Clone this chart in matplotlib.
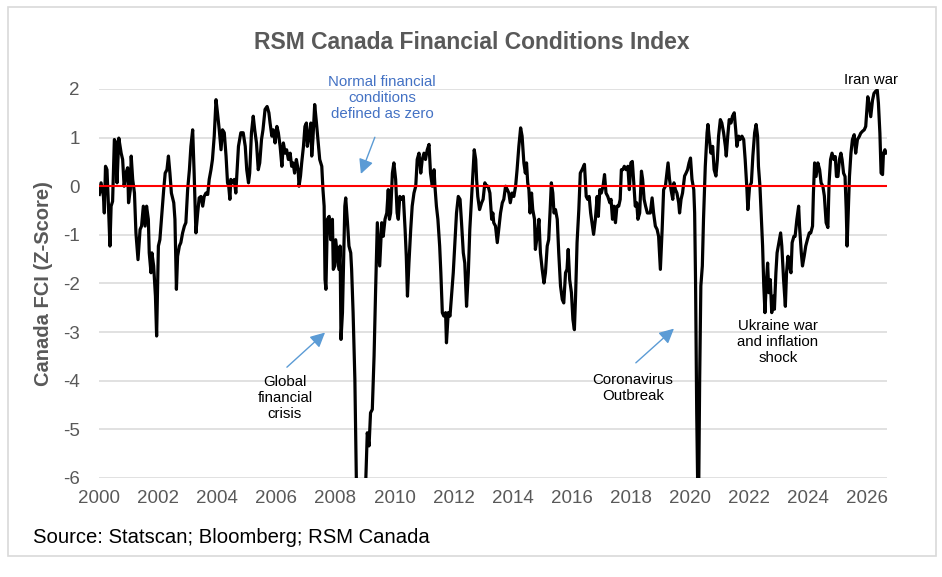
import matplotlib
matplotlib.use('Agg')
from matplotlib import pyplot as plt
from matplotlib.patches import Rectangle

plt.rcParams['font.family'] = ['Liberation Sans', 'DejaVu Sans']
plt.rcParams['axes.unicode_minus'] = False

# Canada FCI (z-score) as (decimal year, value)
fci_year = [
    2000.01, 2000.07, 2000.15, 2000.18, 2000.22, 2000.27, 2000.32, 2000.37, 2000.41, 2000.46,
    2000.52, 2000.58, 2000.61, 2000.67, 2000.75, 2000.80, 2000.85, 2000.91, 2000.97, 2001.00,
    2001.06, 2001.09, 2001.14, 2001.20, 2001.25, 2001.32, 2001.39, 2001.44, 2001.50, 2001.56,
    2001.61, 2001.67, 2001.70, 2001.76, 2001.79, 2001.85, 2001.91, 2001.95, 2002.01, 2002.06,
    2002.13, 2002.19, 2002.24, 2002.30, 2002.35, 2002.40, 2002.45, 2002.53, 2002.57, 2002.62,
    2002.66, 2002.72, 2002.77, 2002.83, 2002.89, 2002.94, 2003.00, 2003.06, 2003.11, 2003.17,
    2003.22, 2003.28, 2003.34, 2003.39, 2003.45, 2003.51, 2003.56, 2003.62, 2003.68, 2003.73,
    2003.79, 2003.84, 2003.90, 2003.96, 2004.01, 2004.07, 2004.13, 2004.18, 2004.24, 2004.30,
    2004.35, 2004.39, 2004.43, 2004.46, 2004.52, 2004.58, 2004.63,
    2004.72, 2004.80, 2004.88, 2004.95, 2005.00, 2005.06, 2005.10, 2005.16, 2005.22, 2005.27,
    2005.33, 2005.39, 2005.44, 2005.50, 2005.55, 2005.62, 2005.69, 2005.75, 2005.79, 2005.85,
    2005.90, 2005.96, 2006.02, 2006.07, 2006.13, 2006.19, 2006.24, 2006.30, 2006.35, 2006.41,
    2006.47, 2006.52, 2006.57, 2006.62, 2006.68, 2006.74, 2006.77, 2006.82, 2006.86, 2006.92,
    2006.97, 2007.02, 2007.05, 2007.11, 2007.17, 2007.20, 2007.24, 2007.30, 2007.36, 2007.43,
    2007.47, 2007.54, 2007.58, 2007.62, 2007.65, 2007.68, 2007.73, 2007.79, 2007.84, 2007.90,
    2007.93, 2007.98, 2008.01, 2008.07, 2008.12, 2008.16, 2008.19, 2008.24, 2008.27, 2008.32,
    2008.35, 2008.41, 2008.46, 2008.52, 2008.55, 2008.60, 2008.66, 2008.71, 2008.87, 2009.03,
    2009.08, 2009.14, 2009.19, 2009.25, 2009.31, 2009.36, 2009.42,
    2009.50, 2009.57, 2009.62, 2009.68, 2009.74, 2009.79, 2009.83, 2009.87, 2009.93, 2009.98,
    2010.04, 2010.09, 2010.13, 2010.18, 2010.24, 2010.30, 2010.36, 2010.40, 2010.44, 2010.49,
    2010.55, 2010.60, 2010.66, 2010.72, 2010.77, 2010.83, 2010.89, 2010.94, 2011.00, 2011.05,
    2011.11, 2011.17, 2011.22, 2011.28, 2011.34, 2011.37, 2011.42, 2011.47, 2011.53, 2011.57,
    2011.62, 2011.67, 2011.73, 2011.76, 2011.82, 2011.88, 2011.93, 2011.99, 2012.05, 2012.10,
    2012.16, 2012.22, 2012.27, 2012.33, 2012.38, 2012.44, 2012.50, 2012.55, 2012.60, 2012.64,
    2012.70, 2012.75, 2012.78, 2012.82, 2012.88, 2012.95, 2013.00, 2013.06, 2013.12, 2013.17,
    2013.23, 2013.29, 2013.33, 2013.36, 2013.42, 2013.48, 2013.53, 2013.59, 2013.65, 2013.70,
    2013.76, 2013.82, 2013.87, 2013.92, 2013.98, 2014.04, 2014.10,
    2014.15, 2014.21, 2014.27, 2014.32, 2014.38, 2014.43, 2014.47, 2014.51, 2014.55, 2014.59,
    2014.64, 2014.68, 2014.74, 2014.77, 2014.83, 2014.89, 2014.94, 2015.00, 2015.06, 2015.11,
    2015.17, 2015.22, 2015.27, 2015.31, 2015.36, 2015.40, 2015.45, 2015.51, 2015.56, 2015.62,
    2015.68, 2015.73, 2015.79, 2015.84, 2015.88, 2015.93, 2015.99, 2016.04, 2016.09, 2016.13,
    2016.18, 2016.24, 2016.29, 2016.35, 2016.43, 2016.49, 2016.54, 2016.59, 2016.64, 2016.70,
    2016.74, 2016.80, 2016.86, 2016.90, 2016.95, 2017.00, 2017.06, 2017.11, 2017.16, 2017.22,
    2017.29, 2017.33, 2017.38, 2017.43, 2017.48, 2017.53, 2017.59, 2017.64, 2017.68, 2017.73,
    2017.78, 2017.84, 2017.90, 2017.95, 2018.00, 2018.05, 2018.10, 2018.15, 2018.20, 2018.24,
    2018.30, 2018.36, 2018.40, 2018.45, 2018.50, 2018.56, 2018.60, 2018.66, 2018.72, 2018.77,
    2018.83,
    2018.89, 2018.94, 2019.00, 2019.06, 2019.11, 2019.17, 2019.22, 2019.26, 2019.31, 2019.36,
    2019.42, 2019.46, 2019.51, 2019.56, 2019.62, 2019.65, 2019.70, 2019.75, 2019.82, 2019.87,
    2019.92, 2019.97, 2020.02, 2020.07, 2020.13, 2020.16, 2020.19, 2020.23, 2020.26, 2020.28,
    2020.30, 2020.33, 2020.37, 2020.42, 2020.46, 2020.52, 2020.58, 2020.61, 2020.66, 2020.71,
    2020.77, 2020.82, 2020.88, 2020.93, 2020.97, 2021.03, 2021.08, 2021.14, 2021.20, 2021.23,
    2021.28, 2021.33, 2021.39, 2021.44, 2021.50, 2021.55, 2021.59, 2021.65, 2021.70, 2021.76,
    2021.82, 2021.87, 2021.93, 2021.96, 2022.02, 2022.08, 2022.13, 2022.19, 2022.24, 2022.29,
    2022.32, 2022.37, 2022.41, 2022.46, 2022.50, 2022.54, 2022.58, 2022.63, 2022.67, 2022.72,
    2022.77, 2022.82, 2022.86, 2022.91, 2022.95, 2023.01, 2023.07, 2023.11, 2023.17, 2023.23,
    2023.27, 2023.32, 2023.37, 2023.42, 2023.46, 2023.52, 2023.56, 2023.62, 2023.68,
    2023.71, 2023.77, 2023.81, 2023.87, 2023.92, 2023.98, 2024.04, 2024.09, 2024.15, 2024.18,
    2024.22, 2024.27, 2024.33, 2024.39, 2024.44, 2024.50, 2024.55, 2024.61, 2024.67, 2024.71,
    2024.76, 2024.81, 2024.87, 2024.92, 2024.96, 2025.01, 2025.06, 2025.11, 2025.15, 2025.20,
    2025.25, 2025.29, 2025.32, 2025.35, 2025.40, 2025.45, 2025.50, 2025.56, 2025.61, 2025.67,
    2025.73, 2025.78, 2025.84, 2025.90, 2025.95, 2025.99, 2026.02, 2026.06, 2026.12, 2026.18,
    2026.23, 2026.28, 2026.34, 2026.38, 2026.43, 2026.47, 2026.52, 2026.55, 2026.60, 2026.63,
]
fci_value = [
    -0.17, 0.07, -0.21, -0.55, 0.41, 0.34, -0.41, -1.23, -0.41, -0.31,
    0.96, 0.89, 0.07, 0.99, 0.68, 0.55, 0.00, 0.27, 0.38, -0.34,
    -0.07, 0.62, 0.14, -0.14, -0.96, -1.51, -0.89, -0.82, -0.41, -0.82,
    -0.41, -0.68, -1.37, -1.78, -1.37, -1.64, -2.26, -3.08, -1.23, -1.10,
    -0.55, -0.07, 0.27, 0.34, 0.62, 0.27, -0.14, -0.34, -0.68, -2.12,
    -1.44, -1.23, -1.16, -0.96, -0.82, -0.75, -0.07, 0.34, 0.82, 1.16,
    0.27, -0.96, -0.55, -0.24, -0.21, -0.41, -0.21, -0.14, -0.17, 0.14,
    0.34, 0.55, 1.03, 1.78, 1.51, 1.16, 0.75, 1.16, 1.10, 0.62,
    0.07, 0.00, -0.27, 0.14, 0.07, 0.14, -0.14,
    0.82, 1.10, 1.10, 0.82, 0.34, 0.07, 0.27, 1.10, 1.44, 1.16,
    0.89, 0.34, 0.48, 0.96, 1.16, 1.58, 1.64, 1.51, 1.30, 1.03,
    1.16, 0.89, 1.23, 1.10, 0.82, 0.41, 0.89, 0.68, 0.75, 0.55,
    0.68, 0.41, 0.48, 0.27, 0.55, 0.34, 0.00, 0.21, 0.48, 0.82,
    1.23, 1.30, 0.82, 1.03, 1.30, 0.62, 0.96, 1.68, 1.30, 0.82,
    0.55, 0.41, -0.07, -0.41, -1.92, -2.12, -0.68, -0.62, -1.10, -0.68,
    -1.71, -1.64, -1.10, -1.44, -1.71, -1.23, -3.15, -2.60, -1.78, -0.41,
    -0.24, -0.75, -1.23, -1.37, -1.71, -2.60, -3.97, -6.03, -8.00, -6.03,
    -5.07, -5.34, -4.66, -4.59, -3.49, -2.19, -0.75,
    -1.64, -0.75, -1.03, -0.68, -0.55, -0.07, -0.68, -0.55, 0.27, 0.48,
    0.14, -0.55, -0.68, -0.21, -0.27, -0.21, -0.89, -1.44, -2.26, -1.58,
    -0.89, -0.41, -0.14, 0.00, 0.55, 0.68, 0.27, 0.55, 0.68, 0.55,
    0.75, 0.86, 0.27, 0.00, 0.34, 0.00, -0.41, -0.68, -1.23, -1.78,
    -2.60, -2.67, -2.60, -3.22, -2.60, -2.67, -2.26, -1.78, -1.10, -0.55,
    -0.21, -0.27, -0.75, -1.37, -1.58, -2.47, -1.78, -0.89, -0.34, 0.14,
    0.75, 0.55, 0.14, -0.21, -0.48, -0.34, -0.27, 0.07, 0.00, 0.00,
    -0.14, -0.68, -0.55, -0.75, -0.82, -1.16, -0.89, -0.55, -0.34, -0.27,
    0.00, -0.07, -0.14, -0.34, -0.14, -0.21, 0.00,
    0.34, 0.82, 1.20, 1.03, 0.48, 0.27, 0.48, 0.07, -0.07, -0.55,
    -0.14, -0.48, -0.68, -1.30, -1.03, -0.68, -1.37, -1.71, -1.99, -1.78,
    -1.23, -1.10, -0.48, 0.07, -0.14, -0.55, -0.48, -0.68, -1.37, -2.05,
    -2.33, -2.40, -1.78, -1.71, -1.30, -1.92, -2.19, -2.74, -2.95, -2.26,
    -1.16, -0.48, 0.27, 0.34, 0.45, -0.21, -0.27, -0.21, -0.55, -0.82,
    -0.99, -0.68, -0.21, -0.62, -0.07, -0.14, 0.00, 0.24, -0.14, -0.21,
    -0.34, -0.27, -0.68, -0.41, -0.75, -0.41, -0.41, -0.27, 0.34, 0.34,
    0.41, 0.34, 0.41, -0.07, 0.48, 0.51, 0.07, -0.41, -0.34, -0.68,
    -0.55, 0.31, 0.14, -0.27, -0.41, -0.55, -0.55, -0.55, -0.24, -0.55,
    -0.82,
    -0.89, -1.03, -1.71, -0.89, -0.07, 0.00, 0.27, 0.48, 0.14, -0.07,
    -0.27, 0.07, -0.07, -0.14, -0.34, -0.55, -0.27, -0.14, 0.21, 0.27,
    0.34, 0.48, 0.58, 0.14, -0.07, -0.55, -1.92, -4.66, -6.03, -7.50,
    -6.03, -3.97, -2.05, -1.64, -0.68, 0.41, 1.10, 1.27, 0.96, 0.68,
    0.82, 0.34, 0.21, 0.55, 1.03, 1.37, 1.30, 1.10, 0.82, 0.62,
    1.03, 1.37, 1.30, 1.44, 1.51, 1.16, 0.82, 1.03, 0.96, 1.03,
    0.96, 0.55, -0.07, -0.48, 0.00, 0.07, 0.62, 1.10, 1.27, 1.03,
    0.41, 0.00, -0.55, -1.23, -2.05, -2.60, -2.05, -1.58, -2.19, -1.92,
    -2.60, -2.26, -2.53, -1.78, -1.37, -1.16, -0.96, -1.23, -1.92, -2.47,
    -1.78, -1.44, -1.64, -1.78, -1.16, -1.03, -1.03, -0.68, -0.41,
    -0.82, -1.37, -1.64, -1.43, -1.23, -1.09, -0.96, -0.96, -0.82, -0.14,
    0.48, 0.20, 0.48, 0.34, 0.07, 0.00, -0.20, -0.75, -0.85, 0.07,
    0.55, 0.68, 0.55, 0.61, 0.20, 0.20, 0.55, 0.68, 0.55, 0.27,
    0.20, -0.48, -1.23, -0.68, 0.20, 0.68, 0.96, 1.06, 0.68, 0.96,
    1.02, 1.09, 1.13, 1.16, 1.23, 1.57, 1.84, 1.71, 1.43, 1.77,
    1.91, 1.95, 1.98, 1.71, 1.09, 0.27, 0.24, 0.68, 0.75, 0.68,
]

x_ticks = list(range(2000, 2027, 2))
y_ticks = [2, 1, 0, -1, -2, -3, -4, -5, -6]

gray_text = '#595959'
grid_gray = '#D9D9D9'
arrow_blue = '#5B9BD5'

fig = plt.figure(figsize=(9.42, 5.77), dpi=100)
ax = fig.add_axes([0.1051, 0.1716, 0.8365, 0.6742])

ax.plot(fci_year, fci_value, color='black', lw=2.3, zorder=3, solid_joinstyle='round')
ax.axhline(0, color='#FF0000', lw=1.5, zorder=4)

ax.set_xlim(2000, 2026.67)
ax.set_ylim(-6, 2)
ax.set_xticks(x_ticks)
ax.set_yticks(y_ticks)
ax.yaxis.grid(True, color=grid_gray, lw=1.1, zorder=0)
ax.tick_params(axis='both', length=0, labelsize=13.5, labelcolor=gray_text)
ax.tick_params(axis='y', pad=14)
ax.tick_params(axis='x', pad=9)
for s in ax.spines.values():
    s.set_visible(False)

ax.set_ylabel('Canada FCI (Z-Score)', fontsize=14.5, fontweight='bold', color=gray_text, labelpad=7)

# annotations
note_kw = dict(fontsize=10.8, ha='center', va='center', linespacing=1.2)
ax.text(2009.58, 1.82, 'Normal financial\nconditions\ndefined as zero', color='#4472C4', **note_kw)
ax.annotate('', xy=(2008.83, 0.20), xytext=(2009.37, 1.06),
            arrowprops=dict(arrowstyle='-|>', color=arrow_blue, lw=1, mutation_scale=22))

ax.text(2006.29, -4.35, 'Global\nfinancial\ncrisis', **note_kw)
ax.annotate('', xy=(2007.72, -2.97), xytext=(2006.29, -3.76),
            arrowprops=dict(arrowstyle='-|>', color=arrow_blue, lw=1, mutation_scale=22))

ax.text(2018.07, -4.15, 'Coronavirus\nOutbreak', **note_kw)
ax.annotate('', xy=(2019.53, -2.89), xytext=(2018.10, -3.67),
            arrowprops=dict(arrowstyle='-|>', color=arrow_blue, lw=1, mutation_scale=22))

ax.text(2022.98, -3.20, 'Ukraine war\nand inflation\nshock', **note_kw)
ax.text(2026.13, 2.19, 'Iran war', clip_on=False, **note_kw)

fig.text(0.501, 0.927, 'RSM Canada Financial Conditions Index', fontsize=16.5, fontweight='bold',
         color=gray_text, ha='center', va='center')
fig.text(0.035, 0.069, 'Source: Statscan; Bloomberg; RSM Canada', fontsize=14.6, ha='left', va='center')

fig.patches.append(Rectangle((0.0085, 0.0364), 0.985, 0.951, transform=fig.transFigure,
                             fill=False, edgecolor=grid_gray, lw=1.2))

plt.savefig('out.png', dpi=100)
